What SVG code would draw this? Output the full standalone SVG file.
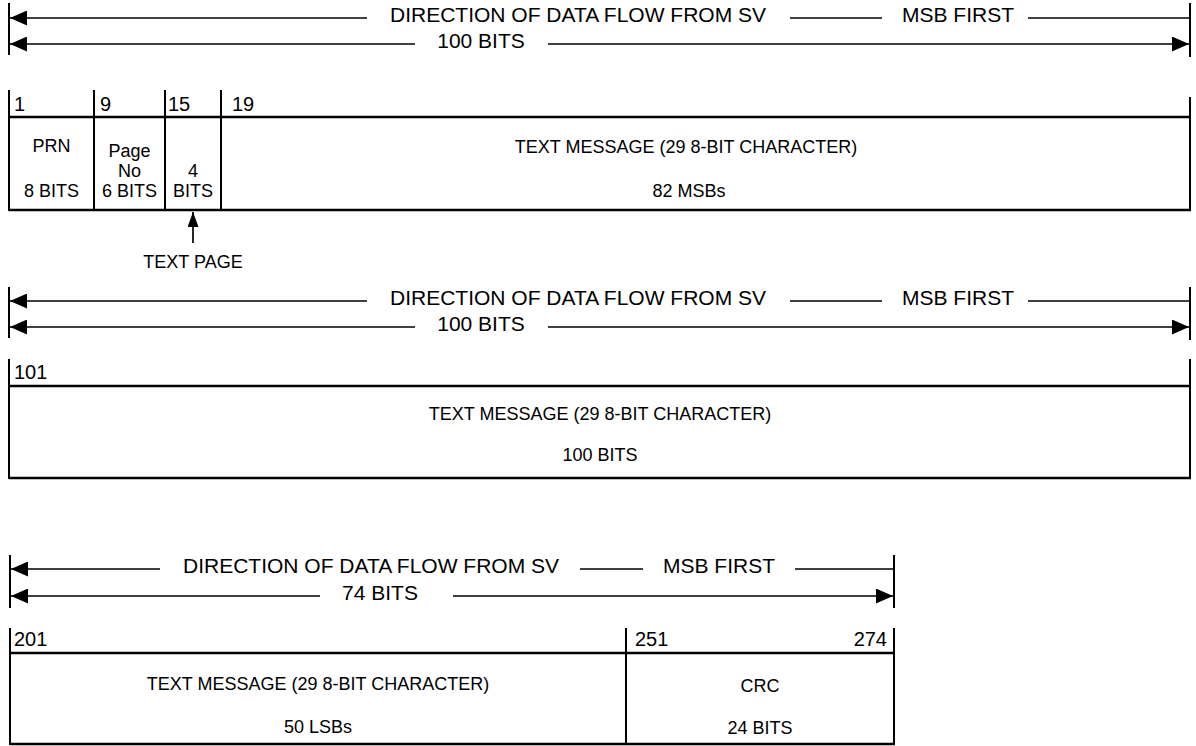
<svg xmlns="http://www.w3.org/2000/svg" width="1196" height="746" viewBox="0 0 1196 746">
<style>
text{font-family:"Liberation Sans",Arial,sans-serif;fill:#000}
.hd{font-size:21px;text-anchor:middle}
.nm{font-size:20px}
.lb{font-size:18px;text-anchor:middle}
.ln{stroke:#000;stroke-width:1.7;fill:none}
.tk{stroke:#000;stroke-width:2;fill:none}
.bx{stroke:#000;stroke-width:2.4;fill:none}
</style>
<defs>
<marker id="ah" markerUnits="userSpaceOnUse" markerWidth="17" markerHeight="15" refX="17" refY="7.5" orient="auto-start-reverse" viewBox="0 0 17 15">
<path d="M0,0 L17,7.5 L0,15 Z" fill="#000"/>
</marker>
<marker id="ah2" markerUnits="userSpaceOnUse" markerWidth="15" markerHeight="11" refX="15" refY="5.5" orient="auto" viewBox="0 0 15 11">
<path d="M0,0 L15,5.5 L0,11 Z" fill="#000"/>
</marker>
</defs>
<g id="connectors">
<line class="tk" x1="9" y1="3" x2="9" y2="55"/>
<line class="tk" x1="1190" y1="3" x2="1190" y2="57"/>
<line class="ln" x1="367" y1="18" x2="10" y2="18" marker-end="url(#ah)"/>
<line class="ln" x1="790" y1="18" x2="882" y2="18"/>
<line class="ln" x1="1028" y1="18" x2="1190" y2="18"/>
<line class="ln" x1="415" y1="44" x2="10" y2="44" marker-end="url(#ah)"/>
<line class="ln" x1="548" y1="44" x2="1189" y2="44" marker-end="url(#ah)"/>
<line class="ln" x1="193" y1="243" x2="193" y2="212" marker-end="url(#ah2)"/>
<line class="tk" x1="9" y1="287" x2="9" y2="338"/>
<line class="tk" x1="1190" y1="287" x2="1190" y2="340"/>
<line class="ln" x1="367" y1="301" x2="10" y2="301" marker-end="url(#ah)"/>
<line class="ln" x1="790" y1="301" x2="882" y2="301"/>
<line class="ln" x1="1028" y1="301" x2="1190" y2="301"/>
<line class="ln" x1="415" y1="327" x2="10" y2="327" marker-end="url(#ah)"/>
<line class="ln" x1="548" y1="327" x2="1189" y2="327" marker-end="url(#ah)"/>
<line class="tk" x1="10" y1="555" x2="10" y2="608"/>
<line class="tk" x1="894" y1="555" x2="894" y2="608"/>
<line class="ln" x1="160" y1="569" x2="11" y2="569" marker-end="url(#ah)"/>
<line class="ln" x1="580" y1="569" x2="643" y2="569"/>
<line class="ln" x1="795" y1="569" x2="894" y2="569"/>
<line class="ln" x1="320" y1="596" x2="11" y2="596" marker-end="url(#ah)"/>
<line class="ln" x1="453" y1="596" x2="893" y2="596" marker-end="url(#ah)"/>
</g>
<g id="header1">
<text class="hd" x="578" y="22">DIRECTION OF DATA FLOW FROM SV</text>
<text class="hd" x="958" y="22">MSB FIRST</text>
<text class="hd" x="481" y="48">100 BITS</text>
</g>
<g id="row1">
<line class="tk" x1="9" y1="90" x2="9" y2="211"/>
<line class="tk" x1="94" y1="90" x2="94" y2="211"/>
<line class="tk" x1="165" y1="90" x2="165" y2="211"/>
<line class="tk" x1="221" y1="90" x2="221" y2="211"/>
<line class="tk" x1="1190" y1="97" x2="1190" y2="211"/>
<line class="bx" x1="9" y1="117" x2="1191" y2="117"/>
<line class="bx" x1="9" y1="210" x2="1191" y2="210"/>
<text class="nm" x="14" y="111">1</text>
<text class="nm" x="100" y="111">9</text>
<text class="nm" x="168" y="111">15</text>
<text class="nm" x="232" y="111">19</text>
<g id="prn"><text class="lb" x="51.5" y="152">PRN</text><text class="lb" x="51.5" y="197">8 BITS</text></g>
<g id="pageno"><text class="lb" x="129.5" y="157">Page</text><text class="lb" x="129.5" y="177">No</text><text class="lb" x="129.5" y="197">6 BITS</text></g>
<g id="textpage"><text class="lb" x="193" y="177">4</text><text class="lb" x="193" y="197">BITS</text></g>
<g id="msg1"><text class="lb" x="686" y="153">TEXT MESSAGE (29 8-BIT CHARACTER)</text><text class="lb" x="689" y="197">82 MSBs</text></g>
<text class="lb" x="193" y="268">TEXT PAGE</text>
</g>
<g id="header2">
<text class="hd" x="578" y="305">DIRECTION OF DATA FLOW FROM SV</text>
<text class="hd" x="958" y="305">MSB FIRST</text>
<text class="hd" x="481" y="331">100 BITS</text>
</g>
<g id="row2">
<line class="tk" x1="9" y1="359" x2="9" y2="479"/>
<line class="tk" x1="1190" y1="359" x2="1190" y2="479"/>
<line class="bx" x1="9" y1="386" x2="1191" y2="386"/>
<line class="bx" x1="9" y1="478" x2="1191" y2="478"/>
<text class="nm" x="14" y="379">101</text>
<text class="lb" x="600" y="420">TEXT MESSAGE (29 8-BIT CHARACTER)</text>
<text class="lb" x="600" y="461">100 BITS</text>
</g>
<g id="header3">
<text class="hd" x="371" y="573">DIRECTION OF DATA FLOW FROM SV</text>
<text class="hd" x="719" y="573">MSB FIRST</text>
<text class="hd" x="380" y="600">74 BITS</text>
</g>
<g id="row3">
<line class="tk" x1="10" y1="628" x2="10" y2="745"/>
<line class="tk" x1="626" y1="628" x2="626" y2="745"/>
<line class="tk" x1="894" y1="628" x2="894" y2="745"/>
<line class="bx" x1="10" y1="653" x2="895" y2="653"/>
<line class="bx" x1="10" y1="744" x2="895" y2="744"/>
<text class="nm" x="14" y="646">201</text>
<text class="nm" x="635" y="646">251</text>
<text class="nm" x="887" y="646" text-anchor="end">274</text>
<g id="msg3"><text class="lb" x="318" y="690">TEXT MESSAGE (29 8-BIT CHARACTER)</text><text class="lb" x="318" y="733">50 LSBs</text></g>
<g id="crc"><text class="lb" x="760" y="692">CRC</text><text class="lb" x="760" y="734">24 BITS</text></g>
</g>
</svg>
